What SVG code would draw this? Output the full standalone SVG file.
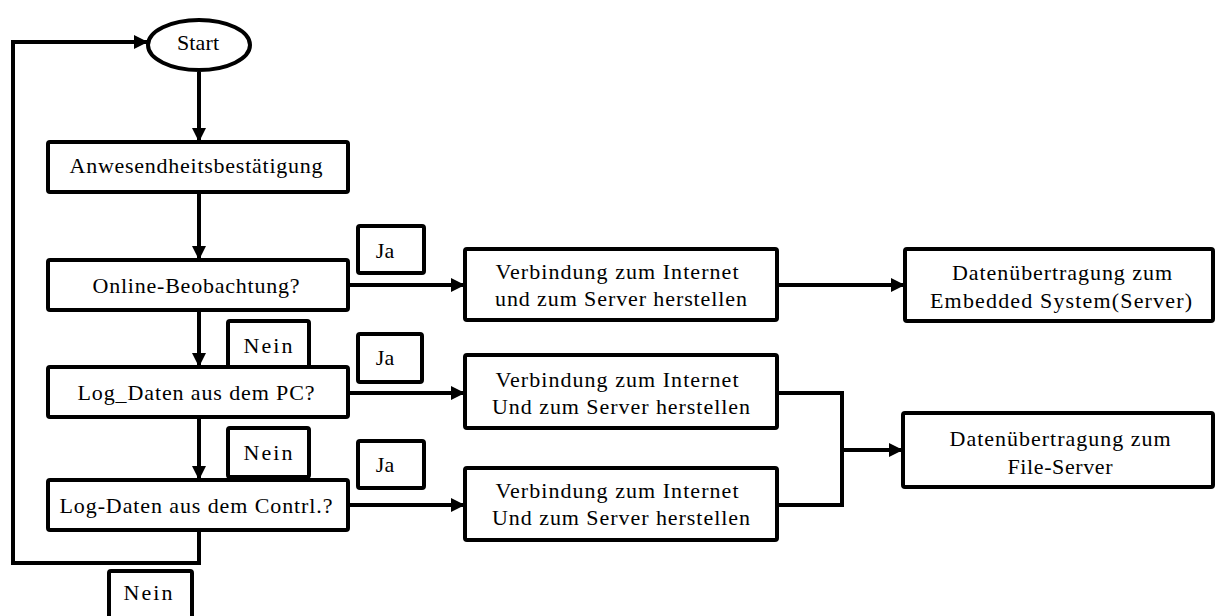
<svg xmlns="http://www.w3.org/2000/svg" width="1216" height="616" viewBox="0 0 1216 616">
<defs>
<style>
.b{fill:#fff;stroke:#000;stroke-width:4}
.l{fill:none;stroke:#000;stroke-width:4;stroke-linejoin:miter}
.t{font-family:'Liberation Serif','Times New Roman',Times,serif;font-size:22px;fill:#000;text-anchor:middle}
</style>
<marker id="ah" markerUnits="userSpaceOnUse" markerWidth="16" markerHeight="16" refX="14" refY="7" orient="auto">
<path d="M0,0 L14,7 L0,14 Z" fill="#000"/>
</marker>
</defs>
<rect width="1216" height="616" fill="#fff"/>
<g id="connectors">
<path class="l" d="M199,72 V142" marker-end="url(#ah)" stroke-width="5"/>
<path class="l" d="M199,192 V260" marker-end="url(#ah)" stroke-width="5"/>
<path class="l" d="M199,310 V367" marker-end="url(#ah)" stroke-width="5"/>
<path class="l" d="M199,417 V480" marker-end="url(#ah)" stroke-width="5"/>
<path class="l" d="M199,530 V563 H13 V42 H148" marker-end="url(#ah)" stroke-width="5"/>
<path class="l" d="M348,285 H465" marker-end="url(#ah)"/>
<path class="l" d="M348,393 H465" marker-end="url(#ah)" stroke-width="5"/>
<path class="l" d="M348,505 H465" marker-end="url(#ah)" stroke-width="5"/>
<path class="l" d="M777,285 H905" marker-end="url(#ah)"/>
<path class="l" d="M777,393 H842 V505" stroke-width="3"/>
<path class="l" d="M777,505 H842 V450" stroke-width="5"/>
<path class="l" d="M842,450 H903" marker-end="url(#ah)" stroke-width="5"/>
</g>
<g id="start">
<ellipse class="b" cx="199" cy="45" rx="51" ry="25"/>
<text class="t" x="198" y="50" textLength="42" lengthAdjust="spacing">Start</text>
</g>
<g id="anwesend">
<rect class="b" x="48" y="142" width="300" height="50" rx="2"/>
<text class="t" x="196" y="173" textLength="253" lengthAdjust="spacing">Anwesendheitsbestätigung</text>
</g>
<g id="online">
<rect class="b" x="48" y="260" width="300" height="50" rx="2"/>
<text class="t" x="196" y="293" textLength="207" lengthAdjust="spacing">Online-Beobachtung?</text>
</g>
<g id="logpc">
<rect class="b" x="48" y="367" width="300" height="50" rx="2"/>
<text class="t" x="196" y="400" textLength="237" lengthAdjust="spacing">Log_Daten aus dem PC?</text>
</g>
<g id="logcontrl">
<rect class="b" x="48" y="480" width="300" height="50" rx="2"/>
<text class="t" x="196" y="513" textLength="273" lengthAdjust="spacing">Log-Daten aus dem Contrl.?</text>
</g>
<g id="nein1">
<rect class="b" x="228" y="321" width="81" height="46" rx="2"/>
<text class="t" x="268" y="353" textLength="49" lengthAdjust="spacing">Nein</text>
</g>
<g id="nein2">
<rect class="b" x="228" y="428" width="81" height="49" rx="2"/>
<text class="t" x="268" y="460" textLength="49" lengthAdjust="spacing">Nein</text>
</g>
<g id="nein3">
<rect class="b" x="109" y="571" width="83" height="52" rx="2"/>
<text class="t" x="148" y="600" textLength="49" lengthAdjust="spacing">Nein</text>
</g>
<g id="ja1">
<rect class="b" x="358" y="226" width="66" height="47" rx="2"/>
<text class="t" x="385" y="258">Ja</text>
</g>
<g id="ja2">
<rect class="b" x="358" y="334" width="64" height="48" rx="2"/>
<text class="t" x="385" y="365">Ja</text>
</g>
<g id="ja3">
<rect class="b" x="358" y="441" width="66" height="47" rx="2"/>
<text class="t" x="385" y="472">Ja</text>
</g>
<g id="verb1">
<rect class="b" x="465" y="249" width="312" height="71" rx="2"/>
<text class="t" x="617" y="279" textLength="243" lengthAdjust="spacing">Verbindung zum Internet</text>
<text class="t" x="621" y="306" textLength="252" lengthAdjust="spacing">und zum Server herstellen</text>
</g>
<g id="verb2">
<rect class="b" x="465" y="355" width="312" height="73" rx="2"/>
<text class="t" x="617" y="387" textLength="243" lengthAdjust="spacing">Verbindung zum Internet</text>
<text class="t" x="621" y="414" textLength="258" lengthAdjust="spacing">Und zum Server herstellen</text>
</g>
<g id="verb3">
<rect class="b" x="465" y="468" width="312" height="72" rx="2"/>
<text class="t" x="617" y="498" textLength="243" lengthAdjust="spacing">Verbindung zum Internet</text>
<text class="t" x="621" y="525" textLength="258" lengthAdjust="spacing">Und zum Server herstellen</text>
</g>
<g id="daten1">
<rect class="b" x="905" y="249" width="308" height="72" rx="2"/>
<text class="t" x="1062" y="280" textLength="220" lengthAdjust="spacing">Datenübertragung zum</text>
<text class="t" x="1061" y="308" textLength="262" lengthAdjust="spacing">Embedded System(Server)</text>
</g>
<g id="daten2">
<rect class="b" x="903" y="413" width="310" height="74" rx="2"/>
<text class="t" x="1060" y="446" textLength="221" lengthAdjust="spacing">Datenübertragung zum</text>
<text class="t" x="1060" y="474" textLength="105" lengthAdjust="spacing">File-Server</text>
</g>
</svg>
